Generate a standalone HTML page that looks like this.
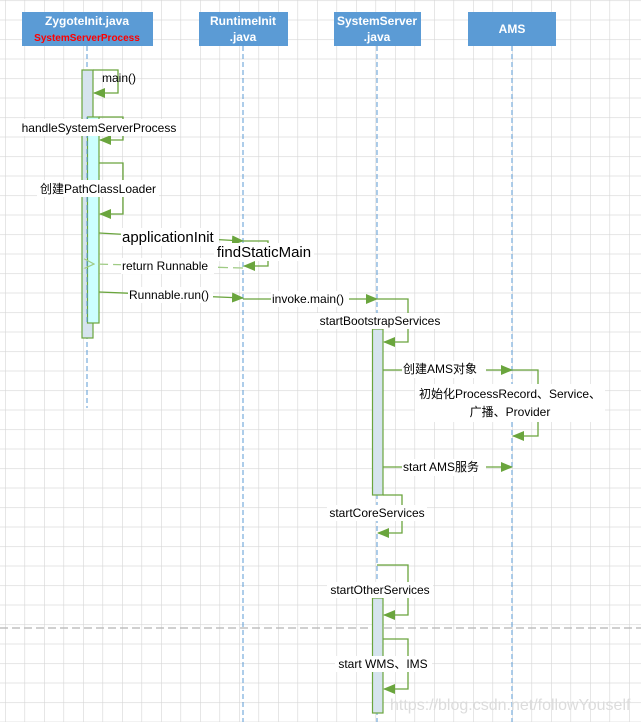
<!DOCTYPE html>
<html><head><meta charset="utf-8"><style>
html,body{margin:0;padding:0;background:#fff;}
svg{display:block;}
text{font-family:"Liberation Sans","Noto Sans CJK SC",sans-serif;fill:#000;}
</style></head><body>
<svg width="641" height="722" viewBox="0 0 641 722" xmlns="http://www.w3.org/2000/svg">
<defs>
<pattern id="g" patternUnits="userSpaceOnUse" x="5" y="0.2" width="19.5" height="19.5">
<path d="M0 0V19.5M0 0H19.5" stroke="#d6d6d6" stroke-width="1.2" fill="none"/>
</pattern>
<marker id="a" markerWidth="12" markerHeight="10" refX="11" refY="5" orient="auto" markerUnits="userSpaceOnUse">
<path d="M0 0L12 5L0 10z" fill="#6aa53d"/></marker>
<marker id="o" markerWidth="12" markerHeight="10" refX="1" refY="5" orient="auto" markerUnits="userSpaceOnUse">
<path d="M11 0L1 5L11 10" fill="none" stroke="#9fcb84" stroke-width="1.2"/></marker>
</defs>
<rect width="641" height="722" fill="#fff"/>
<rect width="641" height="722" fill="url(#g)"/>
<line x1="0" y1="628" x2="641" y2="628" stroke="#b5b5b5" stroke-width="1.3" stroke-dasharray="8,4"/>

<!-- headers -->
<rect x="22" y="12" width="131" height="34" fill="#5b9bd5"/>
<text x="87" y="25" text-anchor="middle" font-size="12" font-weight="bold" style="fill:#fff">ZygoteInit.java</text>
<text x="87" y="41" text-anchor="middle" font-size="10" font-weight="bold" style="fill:#ff0000">SystemServerProcess</text>
<rect x="199" y="12" width="89" height="34" fill="#5b9bd5"/>
<text x="243" y="25" text-anchor="middle" font-size="12" font-weight="bold" style="fill:#fff">RuntimeInit</text>
<text x="243" y="41" text-anchor="middle" font-size="12" font-weight="bold" style="fill:#fff">.java</text>
<rect x="334" y="12" width="87" height="34" fill="#5b9bd5"/>
<text x="377" y="25" text-anchor="middle" font-size="12" font-weight="bold" style="fill:#fff">SystemServer</text>
<text x="377" y="41" text-anchor="middle" font-size="12" font-weight="bold" style="fill:#fff">.java</text>
<rect x="468" y="12" width="88" height="34" fill="#5b9bd5"/>
<text x="512" y="33" text-anchor="middle" font-size="12" font-weight="bold" style="fill:#fff">AMS</text>

<!-- lifelines -->
<g stroke="#5b9bd5" stroke-width="1" stroke-dasharray="5,3">
<line x1="87" y1="46" x2="87" y2="408"/>
<line x1="243" y1="46" x2="243" y2="722"/>
<line x1="377" y1="46" x2="377" y2="722"/>
<line x1="512" y1="46" x2="512" y2="722"/>
</g>

<!-- activation bars -->
<rect x="82" y="70" width="11" height="268" fill="#d6e4ee" stroke="#6aa53d" stroke-width="1.2"/>
<rect x="87.5" y="117" width="11.5" height="206" fill="#ccffff" stroke="#6aa53d" stroke-width="1.2"/>
<line x1="87" y1="117" x2="87" y2="323" stroke="#5b9bd5" stroke-dasharray="5,3"/>
<rect x="372.5" y="329" width="10.5" height="166" fill="#d6e4ee" stroke="#6aa53d" stroke-width="1.2"/>
<rect x="372.5" y="598" width="10.5" height="115" fill="#d6e4ee" stroke="#6aa53d" stroke-width="1.2"/>

<g fill="none" stroke="#6aa53d" stroke-width="1.3">
<path d="M93 70H118V93H94" marker-end="url(#a)"/>
<path d="M99 117H123V140H100" marker-end="url(#a)"/>
<path d="M99 163H123V214H100" marker-end="url(#a)"/>
<path d="M99 233L243 241" marker-end="url(#a)"/>
<path d="M243 241H268V266H244" marker-end="url(#a)"/>
<path d="M243 268L94 264" stroke="#9fcb84" stroke-dasharray="10,5" marker-end="url(#o)"/>
<path d="M99 292L243 298" marker-end="url(#a)"/>
<path d="M243 299H377" marker-end="url(#a)"/>
<path d="M377 299H408V342H384" marker-end="url(#a)"/>
<path d="M383 370H512" marker-end="url(#a)"/>
<path d="M512 370H538V436H513" marker-end="url(#a)"/>
<path d="M383 467H512" marker-end="url(#a)"/>
<path d="M383 495H402V533H378" marker-end="url(#a)"/>
<path d="M377 565H408V615H384" marker-end="url(#a)"/>
<path d="M383 639H408V689H384" marker-end="url(#a)"/>
</g>

<!-- labels -->
<g font-size="12">
<text x="102" y="82">main()</text>
<rect x="19" y="119" width="160" height="17" fill="#fff"/>
<text x="99" y="132" text-anchor="middle">handleSystemServerProcess</text>
<rect x="37" y="180" width="122" height="17" fill="#fff"/>
<text x="98" y="193" text-anchor="middle">创建PathClassLoader</text>
<rect x="121" y="228" width="98" height="18" fill="#fff"/>
<text x="122" y="242" font-size="15">applicationInit</text>
<rect x="214" y="243" width="100" height="18" fill="#fff"/>
<text x="264" y="257" font-size="15" text-anchor="middle">findStaticMain</text>
<rect x="121" y="258" width="93" height="16" fill="#fff"/>
<text x="122" y="270">return Runnable</text>
<rect x="128" y="287" width="85" height="16" fill="#fff"/>
<text x="129" y="299">Runnable.run()</text>
<rect x="271" y="291" width="78" height="16" fill="#fff"/>
<text x="272" y="303">invoke.main()</text>
<rect x="316" y="313" width="128" height="16" fill="#fff"/>
<text x="380" y="325" text-anchor="middle">startBootstrapServices</text>
<rect x="402" y="361" width="84" height="17" fill="#fff"/>
<text x="403" y="373">创建AMS对象</text>
<rect x="415" y="384" width="190" height="38" fill="#fff"/>
<text x="510" y="398" text-anchor="middle">初始化ProcessRecord、Service、</text>
<text x="510" y="416" text-anchor="middle">广播、Provider</text>
<rect x="402" y="459" width="84" height="17" fill="#fff"/>
<text x="403" y="471">start AMS服务</text>
<rect x="327" y="505" width="100" height="16" fill="#fff"/>
<text x="377" y="517" text-anchor="middle">startCoreServices</text>
<rect x="327" y="582" width="106" height="16" fill="#fff"/>
<text x="380" y="594" text-anchor="middle">startOtherServices</text>
<rect x="335" y="656" width="97" height="16" fill="#fff"/>
<text x="383" y="668" text-anchor="middle">start WMS、IMS</text>
</g>
<text x="390" y="710" font-size="16" style="fill:#dcdcdc">https://blog.csdn.net/followYouself</text>
</svg>
</body></html>
